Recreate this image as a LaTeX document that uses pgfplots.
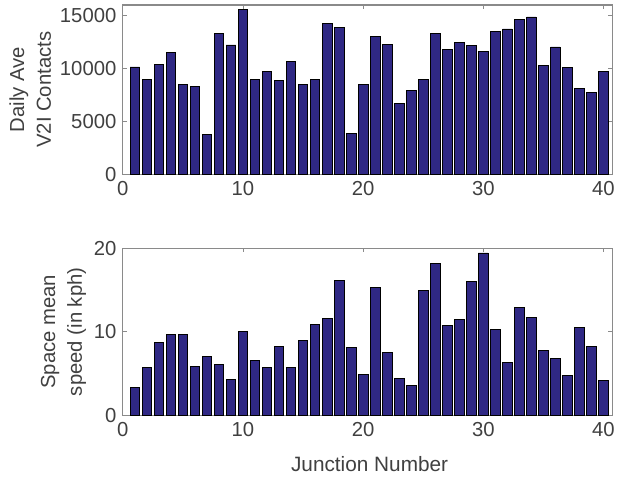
\documentclass[border=0pt]{standalone}
\usepackage{pgfplots}
\pgfplotsset{compat=1.18}
\usepackage{fontspec}
\setmainfont{Liberation Sans}
\definecolor{barc}{HTML}{2F2884}
\definecolor{axc}{HTML}{8A8A8A}
\definecolor{txc}{HTML}{404040}
\begin{document}
\begin{tikzpicture}
\path (0bp,0bp) rectangle (618bp,483bp);
\pgfplotsset{
  myax/.style={
    scale only axis, width=493bp, xmin=0, xmax=40.75,
    xtick={0,10,20,30,40},
    ymin=0,
    axis line style={axc, line width=1.2pt},
    tick style={axc, line width=0.8pt},
    major tick length=4bp,
    tick align=inside,
    scaled y ticks=false,
    every tick label/.style={font=\fontsize{20.5}{22}\selectfont, text=txc},
    xticklabel style={yshift=-3bp},
    yticklabel style={xshift=-3bp},
    /pgf/number format/assume math mode=true,
    /pgf/number format/1000 sep={},
    ylabel style={font=\fontsize{20.5}{27}\selectfont, text=txc, align=center},
    xlabel style={font=\fontsize{21}{22}\selectfont, text=txc},
    enlargelimits=false,
  },
  mybar/.style={ybar, bar width=0.8, fill=barc, draw=black, line width=0.8pt, bar shift=0pt}
}
\begin{axis}[myax, at={(123.7bp,307.3bp)}, anchor=south west, height=170.7bp,
  ymax=16000, ytick={0,5000,10000,15000},
  ylabel={Daily Ave\\V2I Contacts}, ylabel style={at={(axis description cs:-0.189,0.5)}, anchor=center}]
\addplot[mybar] coordinates {
(1,10150) (2,8960) (3,10350) (4,11480) (5,8520) (6,8300) (7,3770) (8,13330) (9,12230) (10,15570)
(11,8960) (12,9720) (13,8840) (14,10660) (15,8520) (16,8960) (17,14250) (18,13900) (19,3840) (20,8520)
(21,12990) (22,12260) (23,6730) (24,7920) (25,8960) (26,13300) (27,11820) (28,12420) (29,12140) (30,11640)
(31,13520) (32,13740) (33,14620) (34,14870) (35,10250) (36,12040) (37,10090) (38,8080) (39,7770) (40,9690)
};
\end{axis}
\begin{axis}[myax, at={(123.7bp,64.7bp)}, anchor=south west, height=168.3bp,
  ymax=20, ytick={0,10,20},
  ylabel={Space mean\\speed (in kph)}, ylabel style={at={(axis description cs:-0.121,0.5)}, anchor=center},
  xlabel={Junction Number}, xlabel style={at={(axis description cs:0.504,-0.29)}, anchor=center}]
\addplot[mybar] coordinates {
(1,3.37) (2,5.75) (3,8.77) (4,9.68) (5,9.68) (6,5.83) (7,7.06) (8,6.15) (9,4.33) (10,10.0)
(11,6.55) (12,5.75) (13,8.25) (14,5.79) (15,9.0) (16,10.9) (17,11.63) (18,16.15) (19,8.13) (20,4.92)
(21,15.36) (22,7.54) (23,4.44) (24,3.61) (25,15.0) (26,18.21) (27,10.75) (28,11.43) (29,16.03) (30,19.44)
(31,10.28) (32,6.31) (33,12.9) (34,11.75) (35,7.82) (36,6.83) (37,4.80) (38,10.52) (39,8.29) (40,4.21)
};
\end{axis}
\end{tikzpicture}
\end{document}
